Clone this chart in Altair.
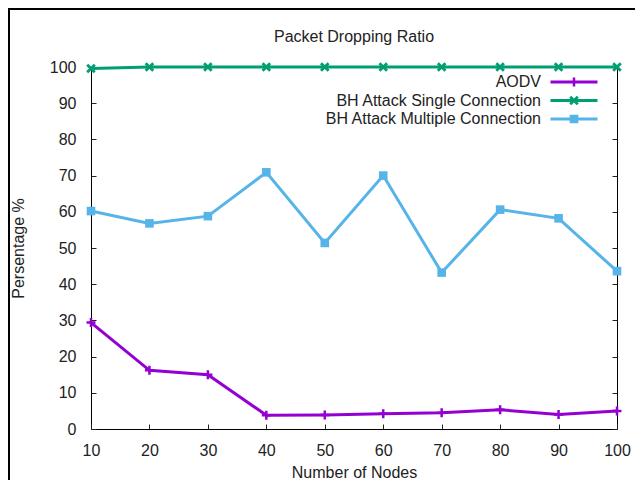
import altair as alt
import pandas as pd

# ---- data ----
nodes = [10, 20, 30, 40, 50, 60, 70, 80, 90, 100]
aodv = [29.4, 16.2, 15.0, 3.8, 3.9, 4.2, 4.5, 5.3, 4.0, 5.0]
bh_single = [99.6, 100, 100, 100, 100, 100, 100, 100, 100, 100]
bh_multiple = [60.2, 56.8, 58.8, 70.9, 51.4, 70.0, 43.2, 60.6, 58.2, 43.6]
series_names = ["AODV", "BH Attack Single Connection", "BH Attack Multiple Connection"]
series_colors = ["#9400D3", "#009E73", "#56B4E9"]
x_ticks = [10, 20, 30, 40, 50, 60, 70, 80, 90, 100]
y_ticks = [0, 10, 20, 30, 40, 50, 60, 70, 80, 90, 100]

rows = []
for name, vals in zip(series_names, [aodv, bh_single, bh_multiple]):
    for n, v in zip(nodes, vals):
        rows.append({"nodes": n, "value": v, "series": name, "marker": name})
df = pd.DataFrame(rows)

FONT = "Liberation Sans"
TXT = "#222222"


# ---- marker path helpers (pixel sizes divided by symbol radius) ----
def rect_path(x0, y0, x1, y1, s):
    return f"M{x0/s:.3f},{y0/s:.3f}H{x1/s:.3f}V{y1/s:.3f}H{x0/s:.3f}Z"


def poly_path(pts, s):
    return "M" + "L".join(f"{x/s:.3f},{y/s:.3f}" for x, y in pts) + "Z"


def plus_path(h, t, s):
    return rect_path(-h, -t, h, t, s) + rect_path(-t, -h, t, h, s)


def cross_path(a, t, s):
    d = t / 2 / 2 ** 0.5
    p1 = [(-a + d, -a - d), (a + d, a - d), (a - d, a + d), (-a - d, -a + d)]
    p2 = [(-a + d, a + d), (-a - d, a - d), (a - d, -a - d), (a + d, -a + d)]
    return poly_path(p1, s) + poly_path(p2, s)


def square_path(h, s):
    return rect_path(-h, -h, h, h, s)


# plot markers: size 100 -> radius 5 px per unit
R_PT = 5.0
marker_paths = [
    plus_path(4.5, 1.25, R_PT),
    cross_path(3.8, 2.8, R_PT),
    square_path(4.3, R_PT),
]

# legend samples: size 361 -> radius 9.5 px per unit, line + marker
R_LG = 9.5
line_seg = rect_path(-23.5, -1.5, 23.5, 1.5, R_LG)
legend_paths = [
    line_seg + plus_path(4.5, 1.25, R_LG),
    line_seg + cross_path(3.8, 2.8, R_LG),
    line_seg + square_path(4.3, R_LG),
]
symbol_expr = (
    f"datum.value === '{series_names[0]}' ? '{legend_paths[0]}' : "
    f"(datum.value === '{series_names[1]}' ? '{legend_paths[1]}' : '{legend_paths[2]}')"
)

# colour scale carries the legend; stroke / shape scales list the same
# series in another order so they are not merged into the colour legend
color_scale = alt.Scale(domain=series_names, range=series_colors)
stroke_order = [2, 1, 0]
stroke_scale = alt.Scale(
    domain=[series_names[i] for i in stroke_order],
    range=[series_colors[i] for i in stroke_order],
)
shape_order = [1, 2, 0]
shape_scale = alt.Scale(
    domain=[series_names[i] for i in shape_order],
    range=[marker_paths[i] for i in shape_order],
)
x_scale = alt.Scale(domain=[10, 100], nice=False, zero=False)
y_scale = alt.Scale(domain=[0, 100], nice=False)

x_axis = alt.Axis(
    values=x_ticks, tickSize=5, offset=-5, domain=False, grid=False,
    labelPadding=13, labelFontSize=16, labelFont=FONT, labelColor=TXT,
    labelFlush=False, labelOverlap=False,
    title="Number of Nodes", titleFontSize=16, titleFont=FONT,
    titleFontWeight="normal", titleColor=TXT, titlePadding=6,
    tickColor="#222222",
)

lines = alt.Chart(df).mark_line(strokeWidth=3).encode(
    x=alt.X("nodes:Q", scale=x_scale, axis=x_axis),
    y=alt.Y(
        "value:Q", scale=y_scale,
        axis=alt.Axis(
            values=y_ticks, tickSize=5, offset=-5, domain=False, grid=False,
            labelPadding=15, labelFontSize=16, labelFont=FONT, labelColor=TXT,
            labelOverlap=False,
            title="Persentage %", titleFontSize=16, titleFont=FONT,
            titleFontWeight="normal", titleColor=TXT, titlePadding=23,
            tickColor="#222222",
        ),
    ),
    stroke=alt.Stroke("series:N", scale=stroke_scale, legend=None),
    detail="series:N",
)

legend = alt.Legend(
    title=None, orient="none", legendX=473.5, legendY=5.5, padding=0,
    symbolSize=361, symbolStrokeWidth=0, symbolType={"expr": symbol_expr},
    labelAlign="right", labelOffset={"expr": "-42.5"}, labelLimit=0,
    labelFontSize=16, labelFont=FONT, labelColor=TXT, rowPadding=0.5,
)

points = alt.Chart(df).mark_point(filled=True, size=100, opacity=1).encode(
    x=alt.X("nodes:Q", scale=x_scale, axis=x_axis),
    y=alt.Y(
        "value:Q", scale=y_scale,
        axis=alt.Axis(
            orient="right", values=y_ticks, tickSize=5, offset=-5, domain=False,
            grid=False, labels=False, title=None, tickColor="#222222",
        ),
    ),
    color=alt.Color("series:N", scale=color_scale, legend=legend),
    shape=alt.Shape("marker:N", scale=shape_scale, legend=None),
)

frame_df = pd.DataFrame({"k": [0]})
frame_left = alt.Chart(frame_df).mark_rule(color="#000000", strokeWidth=2).encode(
    x=alt.value(-82), y=alt.value(-59), y2=alt.value(413)
)
frame_top = alt.Chart(frame_df).mark_rule(color="#000000", strokeWidth=2).encode(
    x=alt.value(-83), x2=alt.value(544), y=alt.value(-58)
)

chart = (
    alt.layer(lines, points, frame_left, frame_top)
    .resolve_axis(y="independent")
    .properties(
        width=526, height=362,
        autosize=alt.AutoSizeParams(type="none"),
        padding={"left": 83, "top": 59, "right": 18, "bottom": 51},
        title=alt.TitleParams(
            "Packet Dropping Ratio", fontSize=16, fontWeight="normal", font=FONT,
            color=TXT, anchor="middle", offset=21, dy=59,
        ),
    )
    .configure_view(stroke="#000000", strokeWidth=1)
)

chart.save("out.html", embed_options={"renderer": "svg", "actions": False})
